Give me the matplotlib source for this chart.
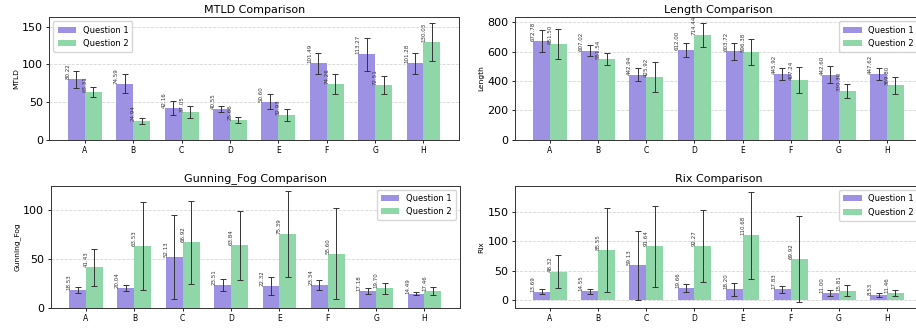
import matplotlib
matplotlib.use("Agg")
import matplotlib.pyplot as plt
import numpy as np
from matplotlib.ticker import MultipleLocator

categories = ["A", "B", "C", "D", "E", "F", "G", "H"]
series_labels = ["Question 1", "Question 2"]

mtld_q1 = [80.22, 74.59, 42.16, 40.55, 50.60, 101.49, 113.27, 101.28]
mtld_q2 = [63.31, 24.94, 37.05, 25.66, 32.93, 74.26, 72.51, 130.03]
mtld_q1_err = [11, 13, 9, 4, 10, 14, 22, 14]
mtld_q2_err = [7, 4, 8, 4, 8, 13, 12, 25]

length_q1 = [672.78, 607.02, 442.94, 612.00, 603.72, 445.92, 442.60, 447.62]
length_q2 = [651.50, 551.54, 425.92, 714.44, 596.38, 407.24, 330.30, 369.80]
length_q1_err = [75, 40, 42, 50, 58, 40, 60, 40]
length_q2_err = [105, 42, 105, 80, 88, 87, 50, 58]

fog_q1 = [18.53, 20.04, 52.13, 23.51, 22.32, 23.34, 17.18, 14.49]
fog_q2 = [41.43, 63.53, 66.92, 63.84, 75.39, 55.60, 19.70, 17.46]
fog_q1_err = [3, 3, 43, 6, 9, 5, 3, 1.5]
fog_q2_err = [19, 45, 43, 35, 44, 47, 6, 4]

rix_q1 = [13.69, 14.55, 59.13, 19.66, 18.20, 17.83, 11.00, 8.53]
rix_q2 = [48.32, 85.55, 91.64, 92.27, 110.68, 69.92, 15.81, 11.46]
rix_q1_err = [4, 4, 59, 7, 11, 6, 5, 3]
rix_q2_err = [28, 72, 69, 61, 75, 74, 9, 5]

COLORS = ["#9c91e2", "#8fd7a9"]
WIDTH = 0.35
W, H = 916, 329

panels = [
    ("MTLD", mtld_q1, mtld_q2, mtld_q1_err, mtld_q2_err, "upper left", 50,
     (49.3, 17.3, 459.0, 139.5)),
    ("Length", length_q1, length_q2, length_q1_err, length_q2_err, "upper right", 200,
     (514.6, 17.3, 922.4, 139.5)),
    ("Gunning_Fog", fog_q1, fog_q2, fog_q1_err, fog_q2_err, "upper right", 50,
     (50.5, 185.5, 460.0, 307.7)),
    ("Rix", rix_q1, rix_q2, rix_q1_err, rix_q2_err, "upper right", 50,
     (514.6, 186.0, 922.4, 307.7)),
]

fig = plt.figure(figsize=(W / 100, H / 100), dpi=100)

for name, q1, q2, e1, e2, legend_loc, step, (x0, y0, x1, y1) in panels:
    ax = fig.add_axes([x0 / W, 1 - y1 / H, (x1 - x0) / W, (y1 - y0) / H])
    x = np.arange(len(categories))
    for k, (vals, errs) in enumerate([(q1, e1), (q2, e2)]):
        bars = ax.bar(
            x + (k - 0.5) * WIDTH,
            vals,
            WIDTH,
            yerr=errs,
            capsize=2.5,
            color=COLORS[k],
            label=series_labels[k],
            error_kw={"elinewidth": 0.7, "capthick": 0.7, "ecolor": "#333333"},
        )
        for bar, v in zip(bars, vals):
            ax.text(
                bar.get_x(),
                bar.get_height(),
                f"{v:.2f}",
                rotation=90,
                ha="center",
                va="bottom",
                fontsize=4,
                color="#333333",
            )
    ax.set_title(f"{name} Comparison", fontsize=8, pad=3)
    ax.set_ylabel(name, fontsize=5.4, labelpad=2)
    ax.set_xticks(x)
    ax.set_xticklabels(categories)
    ax.yaxis.set_major_locator(MultipleLocator(step))
    ax.tick_params(axis="x", labelsize=5.5, length=2.5, width=0.6, pad=2)
    ax.tick_params(axis="y", labelsize=8, length=2.5, width=0.6, pad=2)
    ax.yaxis.grid(True, linestyle="--", color="#cccccc", linewidth=0.6, alpha=0.8)
    ax.set_axisbelow(True)
    for spine in ax.spines.values():
        spine.set_linewidth(0.7)
        spine.set_color("#333333")
    ax.legend(loc=legend_loc, fontsize=6, handlelength=2.2,
              borderpad=0.5, labelspacing=0.5, framealpha=0.8)

fig.savefig("out.png", dpi=100)
